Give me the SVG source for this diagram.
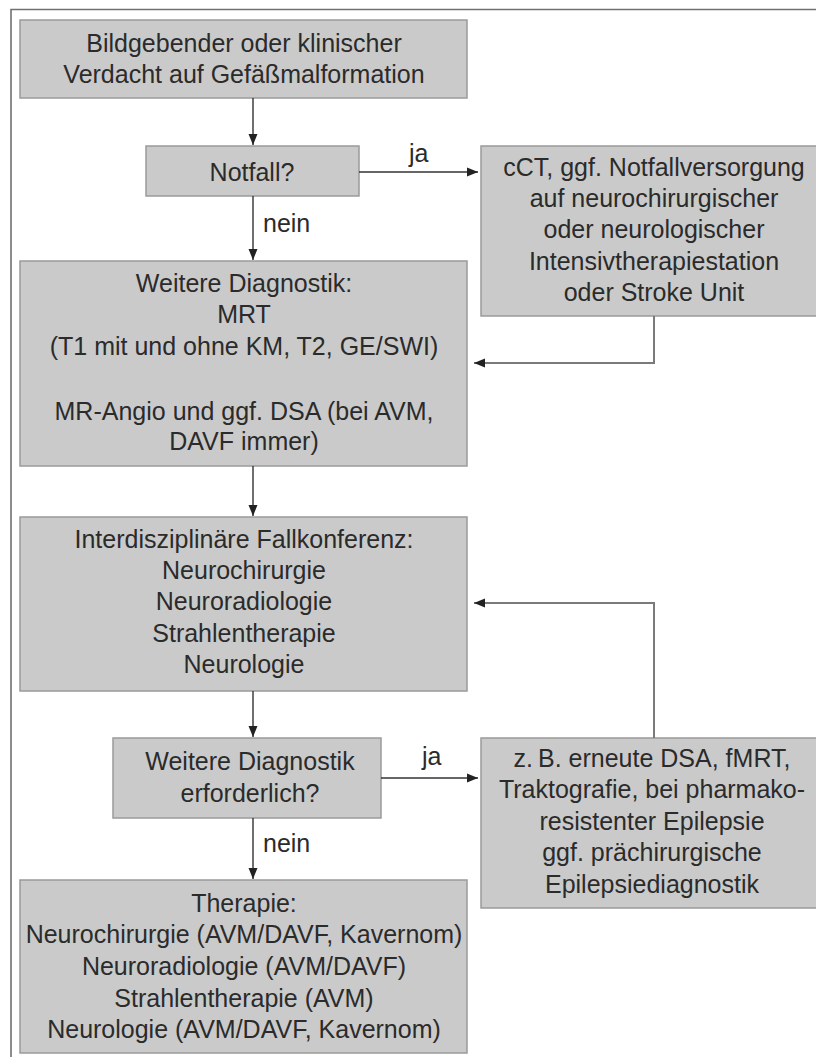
<svg xmlns="http://www.w3.org/2000/svg" width="816" height="1057" viewBox="0 0 816 1057">
<style>
.box{fill:#cacaca;stroke:#9a9a9a;stroke-width:1.5}
.t{font-family:"Liberation Sans",Arial,sans-serif;font-size:25px;fill:#2b2b2b;text-anchor:middle}
.lbl{font-family:"Liberation Sans",Arial,sans-serif;font-size:25px;fill:#2b2b2b}
.c{fill:none;stroke:#333;stroke-width:1.4}
.fb{fill:none;stroke:#7a7a7a;stroke-width:2}
</style>
<defs>
<marker id="ah" markerUnits="userSpaceOnUse" markerWidth="12" markerHeight="10" refX="11" refY="5" orient="auto">
<path d="M0,0.5 L11,5 L0,9.5 z" fill="#222"/>
</marker>
</defs>
<rect width="816" height="1057" fill="#fff"/>
<path d="M11,1057 V9.5 H816" fill="none" stroke="#707070" stroke-width="1.6"/>

<g id="n1">
<rect class="box" x="20" y="20" width="447" height="78"/>
<text class="t" x="244" y="52">Bildgebender oder klinischer</text>
<text class="t" x="244" y="83">Verdacht auf Gefäßmalformation</text>
</g>
<g id="n2">
<rect class="box" x="146" y="146" width="213" height="50"/>
<text class="t" x="252" y="181">Notfall?</text>
</g>
<g id="n3">
<rect class="box" x="481" y="146" width="345" height="170"/>
<text class="t" x="654" y="176">cCT, ggf. Notfallversorgung</text>
<text class="t" x="654" y="207">auf neurochirurgischer</text>
<text class="t" x="654" y="238">oder neurologischer</text>
<text class="t" x="654" y="270">Intensivtherapiestation</text>
<text class="t" x="654" y="301">oder Stroke Unit</text>
</g>
<g id="n4">
<rect class="box" x="20" y="261" width="447" height="205"/>
<text class="t" x="244" y="292">Weitere Diagnostik:</text>
<text class="t" x="244" y="323">MRT</text>
<text class="t" x="244" y="355">(T1 mit und ohne KM, T2, GE/SWI)</text>
<text class="t" x="244" y="420">MR-Angio und ggf. DSA (bei AVM,</text>
<text class="t" x="244" y="450">DAVF immer)</text>
</g>
<g id="n5">
<rect class="box" x="20" y="517" width="447" height="174"/>
<text class="t" x="244" y="548">Interdisziplinäre Fallkonferenz:</text>
<text class="t" x="244" y="579">Neurochirurgie</text>
<text class="t" x="244" y="610">Neuroradiologie</text>
<text class="t" x="244" y="642">Strahlentherapie</text>
<text class="t" x="244" y="673">Neurologie</text>
</g>
<g id="n6">
<rect class="box" x="113" y="738" width="268" height="80"/>
<text class="t" x="250" y="770">Weitere Diagnostik</text>
<text class="t" x="250" y="802">erforderlich?</text>
</g>
<g id="n7">
<rect class="box" x="481" y="738" width="345" height="170"/>
<text class="t" x="652" y="767">z.&#8201;B. erneute DSA, fMRT,</text>
<text class="t" x="652" y="798">Traktografie, bei pharmako-</text>
<text class="t" x="652" y="830">resistenter Epilepsie</text>
<text class="t" x="652" y="861">ggf. prächirurgische</text>
<text class="t" x="652" y="893">Epilepsiediagnostik</text>
</g>
<g id="n8">
<rect class="box" x="20" y="880" width="447" height="173"/>
<text class="t" x="244" y="912">Therapie:</text>
<text class="t" x="244" y="943">Neurochirurgie (AVM/DAVF, Kavernom)</text>
<text class="t" x="244" y="975">Neuroradiologie (AVM/DAVF)</text>
<text class="t" x="244" y="1007">Strahlentherapie (AVM)</text>
<text class="t" x="244" y="1038">Neurologie (AVM/DAVF, Kavernom)</text>
</g>

<g id="connectors">
<line class="c" x1="253" y1="98" x2="253" y2="145" marker-end="url(#ah)"/>
<line class="c" x1="359" y1="172" x2="478" y2="172" marker-end="url(#ah)"/>
<line class="c" x1="253" y1="196" x2="253" y2="260" marker-end="url(#ah)"/>
<polyline class="fb" points="654,316 654,363 474,363" marker-end="url(#ah)"/>
<line class="c" x1="253" y1="466" x2="253" y2="516" marker-end="url(#ah)"/>
<line class="c" x1="253" y1="691" x2="253" y2="737" marker-end="url(#ah)"/>
<polyline class="fb" points="654,738 654,603 474,603" marker-end="url(#ah)"/>
<line class="c" x1="381" y1="778" x2="478" y2="778" marker-end="url(#ah)"/>
<line class="c" x1="253" y1="818" x2="253" y2="879" marker-end="url(#ah)"/>
<text class="lbl" x="409" y="162">ja</text>
<text class="lbl" x="263" y="232">nein</text>
<text class="lbl" x="422" y="765">ja</text>
<text class="lbl" x="263" y="852">nein</text>
</g>
</svg>
